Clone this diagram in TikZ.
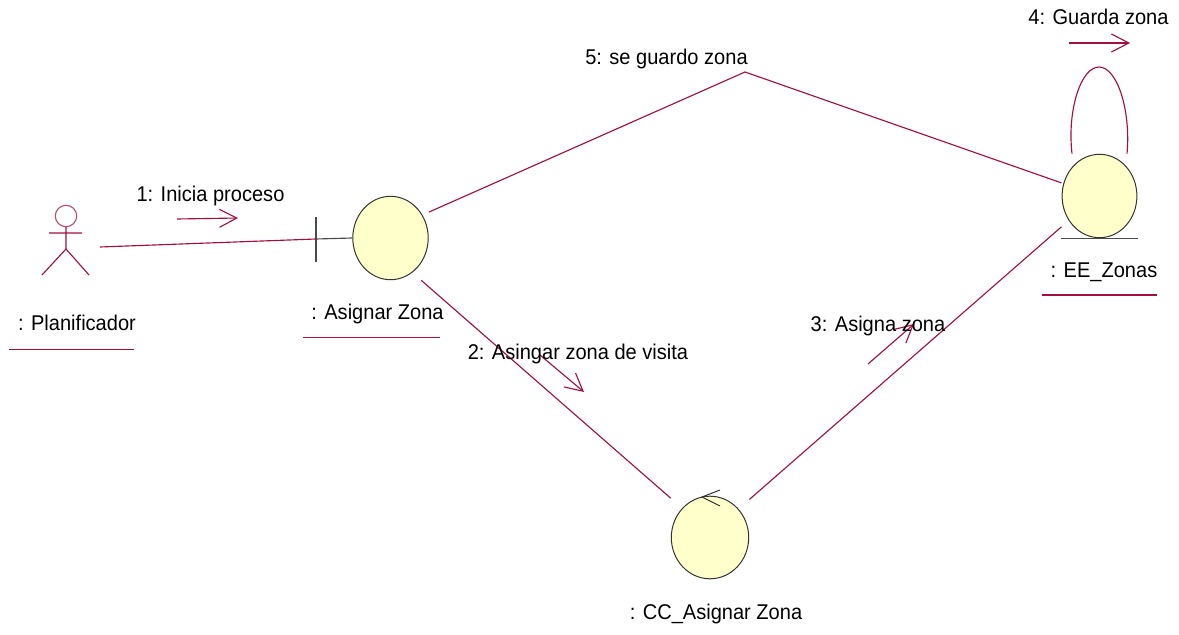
\documentclass[tikz,border=0pt]{standalone}
\usepackage{fontspec}
\setmainfont[FakeStretch=0.94]{Liberation Sans}
\usetikzlibrary{arrows.meta}
\definecolor{umlred}{HTML}{A50F3F}
\definecolor{umlfill}{HTML}{FFFFCB}
\definecolor{umlgrey}{HTML}{4A4A4A}
\tikzset{
  link/.style={draw=umlred,line width=0.85pt},
  msg/.style={draw=umlred,line width=0.85pt,-{Straight Barb[length=13pt,width=13.5pt,line width=0.85pt]}},
  stem/.style={draw=umlgrey,line width=0.85pt},
  rule/.style={draw=umlred,line width=0.85pt},
  lbl/.style={inner sep=0pt,outer sep=0pt,anchor=base,font=\fontsize{16}{18}\selectfont,text=black},
  ball/.style n args={2}{rectangle,draw=none,inner sep=0pt,outer sep=0pt,
    minimum width=#1*1.5pt+1pt,minimum height=#2*1.5pt+1pt,
    path picture={\draw[draw=black!80,fill=umlfill,line width=0.75pt]
      (path picture bounding box.center) ellipse ({#1} and {#2});}},
  holder/.style={rectangle,draw=none,inner sep=0pt,outer sep=0pt,minimum width=51pt,minimum height=45pt}
}
\begin{document}
\begin{tikzpicture}[x=0.75pt,y=-0.75pt]
\useasboundingbox (0,0) rectangle (1179,635);
% objects
\node[holder] (actor) at (66,247) {};
\node[ball={37.7}{41.7}] (asignar) at (390.5,238) {};
\node[ball={37.4}{41.7}] (zonas) at (1099.5,196) {};
\node[ball={38.7}{41.3}] (cc) at (710,537.5) {};
% actor figure
\draw[link,draw=umlred!75] (66,216) circle (10.7);
\draw[link] (66,227) -- (66,249) (49,233) -- (82,233) (42,275) -- (66,249) -- (89,275);
% boundary and entity marks
\coordinate (bnd) at (316,239);
\draw[stem] (316,217) -- (316,262);
\draw[stem] (bnd) -- (asignar.west);
\draw[stem] (zonas.south west) -- (zonas.south east);
% control mark
\draw[draw=black!80,line width=0.75pt] ([shift={(10,-47.5)}]cc.center) -- ([shift={(-8,-40.5)}]cc.center) -- ([shift={(10,-31.5)}]cc.center);
% connectors
\coordinate (bend) at (745,72);
\draw[link] (actor.east) -- (bnd);
\draw[link] (asignar.34) -- (bend) -- (zonas.161);
\draw[link] (asignar.-54.9) -- (cc.135.7);
\draw[link] (cc.44.3) -- (zonas.219.6);
\draw[link] (zonas.123.2) .. controls (1067,110) and (1081,67) .. (1099,67) .. controls (1117,67) and (1131,110) .. (zonas.57.7);
% message arrows
\coordinate (m1a) at (177,219); \coordinate (m1b) at (238,218);
\coordinate (m2a) at (540,355); \coordinate (m2b) at (584,392);
\coordinate (m3a) at (868,364); \coordinate (m3b) at (914,324);
\coordinate (m4a) at (1069,43); \coordinate (m4b) at (1130,43);
\draw[msg] (m1a) -- (m1b);
\draw[msg] (m2a) -- (m2b);
\draw[msg] (m3a) -- (m3b);
\draw[msg] (m4a) -- (m4b);
% labels
\node[lbl] (t1) at (210.5,201) {1: Inicia proceso};
\node[lbl] (t2) at (578,359) {2: Asingar zona de visita};
\node[lbl] (t3) at (878,331) {3: Asigna zona};
\node[lbl] (t4) at (1098.5,25) {4: Guarda zona};
\node[lbl] (t5) at (666.5,65) {5: se guardo zona};
\node[lbl] (n1) at (77,330) {: Planificador};
\node[lbl] (n2) at (377.5,319) {: Asignar Zona};
\node[lbl] (n3) at (1104,277) {: EE\_Zonas};
\node[lbl] (n4) at (716,619) {: CC\_Asignar Zona};
% underlines
\draw[rule] (9,349.5) -- (134,349.5);
\draw[rule] (303,337.5) -- (440,337.5);
\draw[rule] (1042,295) -- (1157,295);
\end{tikzpicture}
\end{document}
